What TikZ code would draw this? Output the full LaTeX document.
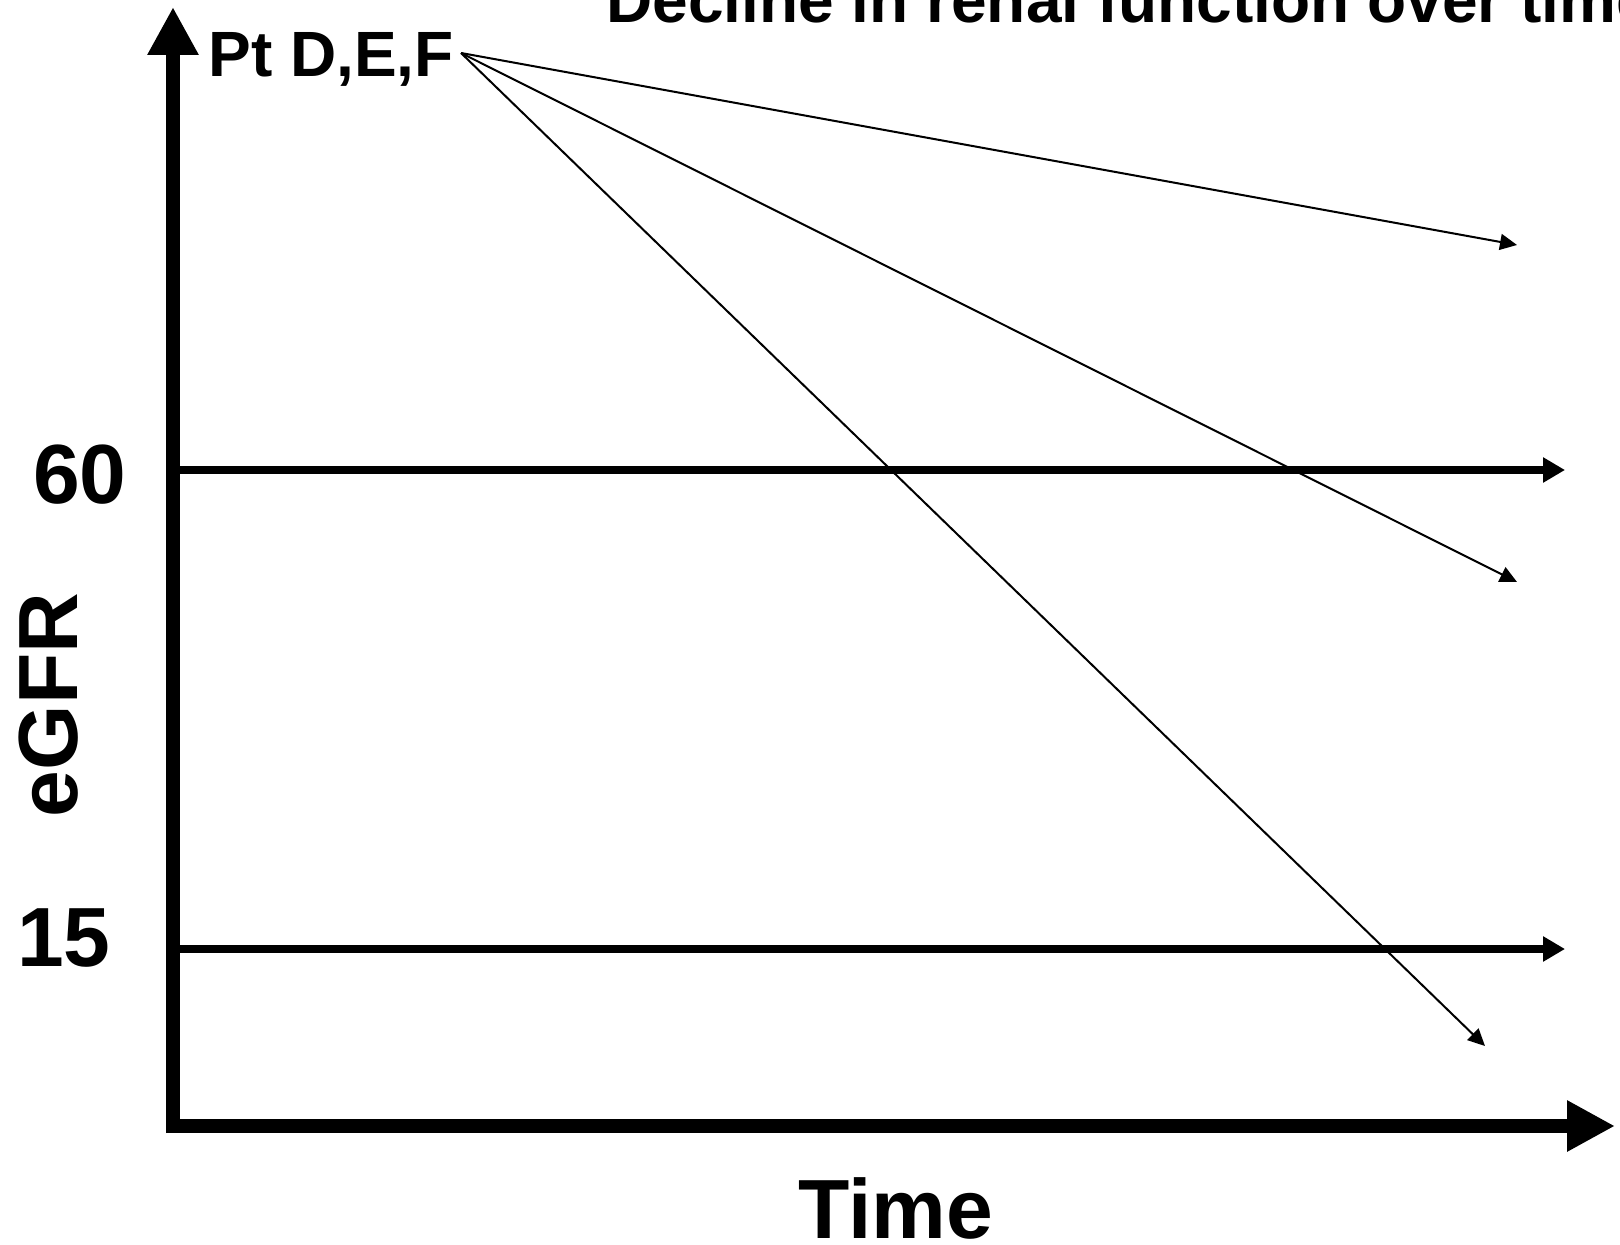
\documentclass[tikz,border=0pt]{standalone}
\usepackage{fontspec}
\setmainfont{Liberation Sans}
\usetikzlibrary{arrows.meta}

\begin{document}
\begin{tikzpicture}[x=0.5pt, y=-0.5pt, every node/.style={inner sep=0pt, font=\bfseries}, axis/.style={draw=black, line width=7pt, -{Triangle[width=24pt, length=24pt]}}, refline/.style={draw=black, line width=4pt, -{Triangle[width=12pt, length=11pt]}}, decline/.style={draw=black, line width=1pt, -{Triangle[width=8pt, length=8.5pt]}}, big/.style={font=\fontsize{42}{42}\selectfont\bfseries}]
			\useasboundingbox (0,0) rectangle (1620,1245);
			\clip (0,0) rectangle (1620,1245);
			
			\coordinate (o) at (173,1133);
			\coordinate (ytop) at (173,7);
			\coordinate (xleft) at (166,1126);
			\coordinate (xend) at (1615,1126);
			
			\coordinate (a60) at (180,470);
			\coordinate (b60) at (1565,470);
			\coordinate (a15) at (180,949);
			\coordinate (b15) at (1565,949);
			
			\coordinate (src) at (461,53);
			\coordinate (e1) at (1517,245);
			\coordinate (e2) at (1517,582);
			\coordinate (e3) at (1485,1046);
			
			\node[anchor=base west, font=\fontsize{32}{32}\selectfont\bfseries] (title) at (606,23){Decline in renal function over time};
			\node[anchor=base west, font=\fontsize{32}{32}\selectfont\bfseries] (pt) at (208,77){Pt D,E,F};
			
			\node[big, anchor=base] (l60) at (80,503){60};
			\node[big, anchor=base] (l15) at (64,966){15};
			\node[big, anchor=base, rotate=90] (egfr) at (77,705){eGFR};
			\node[big, anchor=base] (time) at (896,1238){Time};
			
			\path (o) edge[axis] (ytop);
			\path (xleft) edge[axis] (xend);
			\path (a60) edge[refline] (b60);
			\path (a15) edge[refline] (b15);
			
			\path (src) edge[decline] (e1);
			\path (src) edge[decline] (e2);
			\path (src) edge[decline] (e3);
			\end{tikzpicture}
\end{document}
